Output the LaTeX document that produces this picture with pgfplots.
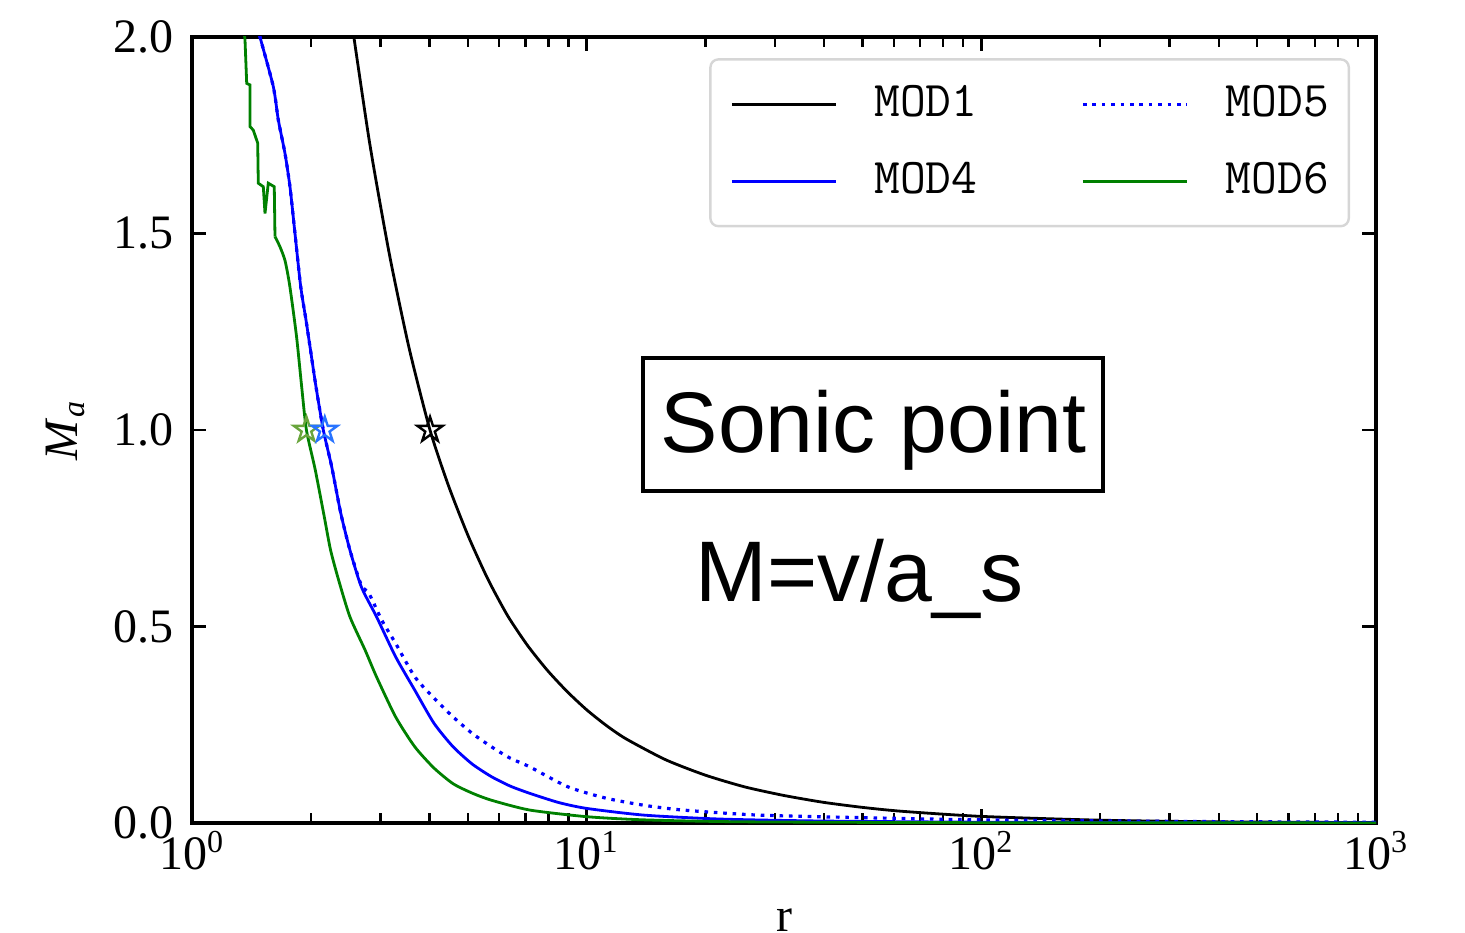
\documentclass[border=0pt]{standalone}
\usepackage{pgfplots}
\pgfplotsset{compat=1.18}
\usepackage{fontspec}
\setmainfont{Liberation Serif}
\newfontfamily\annfont{Liberation Sans}
\definecolor{starGreen}{RGB}{105,165,60}
\definecolor{starBlue}{RGB}{40,115,255}
\definecolor{mgreen}{RGB}{0,128,0}

\pgfdeclareplotmark{ostar}{%
  \pgfpathmoveto{\pgfpointpolar{90}{\pgfplotmarksize}}%
  \pgfpathlineto{\pgfpointpolar{126}{0.382\pgfplotmarksize}}%
  \pgfpathlineto{\pgfpointpolar{162}{\pgfplotmarksize}}%
  \pgfpathlineto{\pgfpointpolar{198}{0.382\pgfplotmarksize}}%
  \pgfpathlineto{\pgfpointpolar{234}{\pgfplotmarksize}}%
  \pgfpathlineto{\pgfpointpolar{270}{0.382\pgfplotmarksize}}%
  \pgfpathlineto{\pgfpointpolar{306}{\pgfplotmarksize}}%
  \pgfpathlineto{\pgfpointpolar{342}{0.382\pgfplotmarksize}}%
  \pgfpathlineto{\pgfpointpolar{18}{\pgfplotmarksize}}%
  \pgfpathlineto{\pgfpointpolar{54}{0.382\pgfplotmarksize}}%
  \pgfpathclose\pgfusepathqstroke}

\begin{document}
\begin{tikzpicture}
\useasboundingbox (0,0) rectangle (366.25pt,233pt);
\begin{axis}[
  at={(48pt,27.25pt)}, anchor=south west,
  scale only axis, width=296pt, height=196.5pt,
  xmode=log, xmin=1, xmax=1000, ymin=0, ymax=2,
  xtick={1,10,100,1000},
  xticklabels={10\textsuperscript{0},10\textsuperscript{1},10\textsuperscript{2},10\textsuperscript{3}},
  minor xtick={2,3,4,5,6,7,8,9,20,30,40,50,60,70,80,90,200,300,400,500,600,700,800,900},
  ytick={0,0.5,1,1.5,2},
  yticklabels={0.0,0.5,1.0,1.5,2.0},
  tick align=inside, major tick length=3.5pt, minor tick length=2.5pt,
  every tick/.style={black, line width=0.6pt},
  axis line style={line width=0.8pt},
  tick label style={font=\fontsize{12}{14}\selectfont},
  xticklabel style={yshift=1.5pt},
  yticklabel style={xshift=-1pt},
  xlabel={r},
  every axis x label/.style={at={(axis description cs:0.5,0)}, anchor=base, yshift=-27.15pt, font=\fontsize{12}{14}\selectfont},
  ylabel={\textit{M}\textsubscript{\textit{a}}},
  every axis y label/.style={at={(axis description cs:-0.0971,0.5)}, rotate=90, anchor=base, font=\fontsize{12}{14}\selectfont},
  legend columns=2, transpose legend,
  legend image code/.code={\draw[#1] (0pt,0pt) -- (26pt,0pt);},
  legend style={at={(1,1)}, anchor=north east, xshift=-6.5pt, yshift=-5.3pt,
    draw=black!16, line width=0.6pt, rounded corners=2pt, fill=white,
    font=\fontsize{12.5}{15}\ttfamily,
    inner xsep=5pt, inner ysep=6.6pt, row sep=9.9pt,
    nodes={inner sep=0pt},
    /tikz/every odd column/.append style={column sep=9.3pt},
    /tikz/every even column/.append style={column sep=26pt}},
]
% MOD1
\addplot[black, line width=0.7pt, smooth, tension=0.4] table {
2.5119 2.07
2.8184 1.731
3.1623 1.448
3.5481 1.209
4.0087 1.0
4.4668 0.858
5.0119 0.730
5.6234 0.620
6.3096 0.527
7.0795 0.452
7.9433 0.389
8.9125 0.335
10.0 0.288
11.220 0.248
12.589 0.214
15.849 0.161
19.953 0.122
25.119 0.092
31.623 0.070
39.811 0.0526
50.119 0.0396
63.096 0.0297
100 0.0168
199.53 0.0072
398.11 0.0030
1000 0.00097
};
\addlegendentry{MOD1}
% MOD4
\addplot[blue, line width=0.7pt, smooth, tension=0.4] table {
1.4454 2.05
1.4870 2.0
1.6069 1.874
1.6546 1.789
1.7203 1.704
1.7713 1.619
1.8239 1.5
1.8854 1.365
1.9449 1.28
2.0022 1.195
2.0615 1.11
2.1513 1.0
2.2589 0.907
2.3800 0.79
2.5119 0.695
2.6853 0.601
2.9343 0.525
3.2809 0.423
3.6686 0.338
4.1019 0.254
4.5867 0.194
5.1286 0.150
5.7359 0.118
6.4000 0.094
7.1697 0.0756
8.5000 0.052
10.018 0.037
13.996 0.020
21.878 0.010
39.81 0.005
100 0.002
316.2 0.0008
1000 0.0003
};
\addlegendentry{MOD4}
% MOD5
\addplot[blue, line width=0.8pt, dash pattern=on 0.9pt off 1.45pt, smooth, tension=0.4] table {
1.4454 2.05
1.4870 2.0
1.6069 1.874
1.6546 1.789
1.7203 1.704
1.7713 1.619
1.8239 1.5
1.8854 1.365
1.9449 1.28
2.0022 1.195
2.0615 1.11
2.1513 1.0
2.2589 0.907
2.3800 0.79
2.5119 0.695
2.6853 0.605
2.8054 0.585
3.0300 0.515
3.2809 0.457
3.6686 0.372
4.1019 0.318
4.5867 0.27
5.1286 0.228
5.7359 0.194
6.4000 0.165
7.1697 0.143
8.9639 0.092
11.207 0.063
13.996 0.045
17.510 0.033
27.352 0.020
53.456 0.013
100 0.008
316.2 0.004
1000 0.002
};
\addlegendentry{MOD5}
% MOD6 (smooth part)
\addplot[mgreen, line width=0.7pt, smooth, tension=0.4] table {
1.6229 1.492
1.6711 1.466
1.7219 1.43
1.7701 1.365
1.8408 1.237
1.8967 1.11
1.9498 1.0
2.0512 0.90
2.1628 0.78
2.2439 0.695
2.3496 0.62
2.5119 0.525
2.7453 0.44
2.9343 0.372
3.2809 0.27
3.6686 0.194
4.1019 0.140
4.5867 0.10
5.1286 0.076
5.7359 0.058
7.1697 0.033
10.018 0.016
13.996 0.008
25.119 0.003
100 0.0008
1000 0.0002
};
\addlegendentry{MOD6}
% MOD6 (jagged part near the top)
\addplot[mgreen, line width=0.7pt, forget plot] table {
1.343 2.05
1.3625 1.992
1.3760 1.882
1.4028 1.878
1.4028 1.772
1.4299 1.763
1.4672 1.730
1.4723 1.628
1.5160 1.619
1.5311 1.551
1.5606 1.628
1.6162 1.619
1.6229 1.492
};
% sonic points
\addplot[only marks, mark=ostar, mark size=3.3pt, starGreen, line width=0.6pt, forget plot] table {
1.95 1.0
};
\addplot[only marks, mark=ostar, mark size=3.3pt, starBlue, line width=0.6pt, forget plot] table {
2.17 1.0
};
\addplot[only marks, mark=ostar, mark size=3.3pt, black, line width=0.6pt, forget plot] table {
4.01 1.0
};
\end{axis}
\begin{scope}[x=0.25pt, y=-0.25pt, shift={(0pt,233pt)}]
\draw[line width=1pt] (643,357.7) rectangle (1103,491);
\node[anchor=base, inner sep=0pt, font={\annfont\fontsize{21.5}{25}\selectfont}] at (873.5,453) {Sonic point};
\node[anchor=base west, inner sep=0pt, font={\annfont\fontsize{21.5}{25}\selectfont}] at (695,602) {M=v/a\_s};
\end{scope}
\end{tikzpicture}
\end{document}
